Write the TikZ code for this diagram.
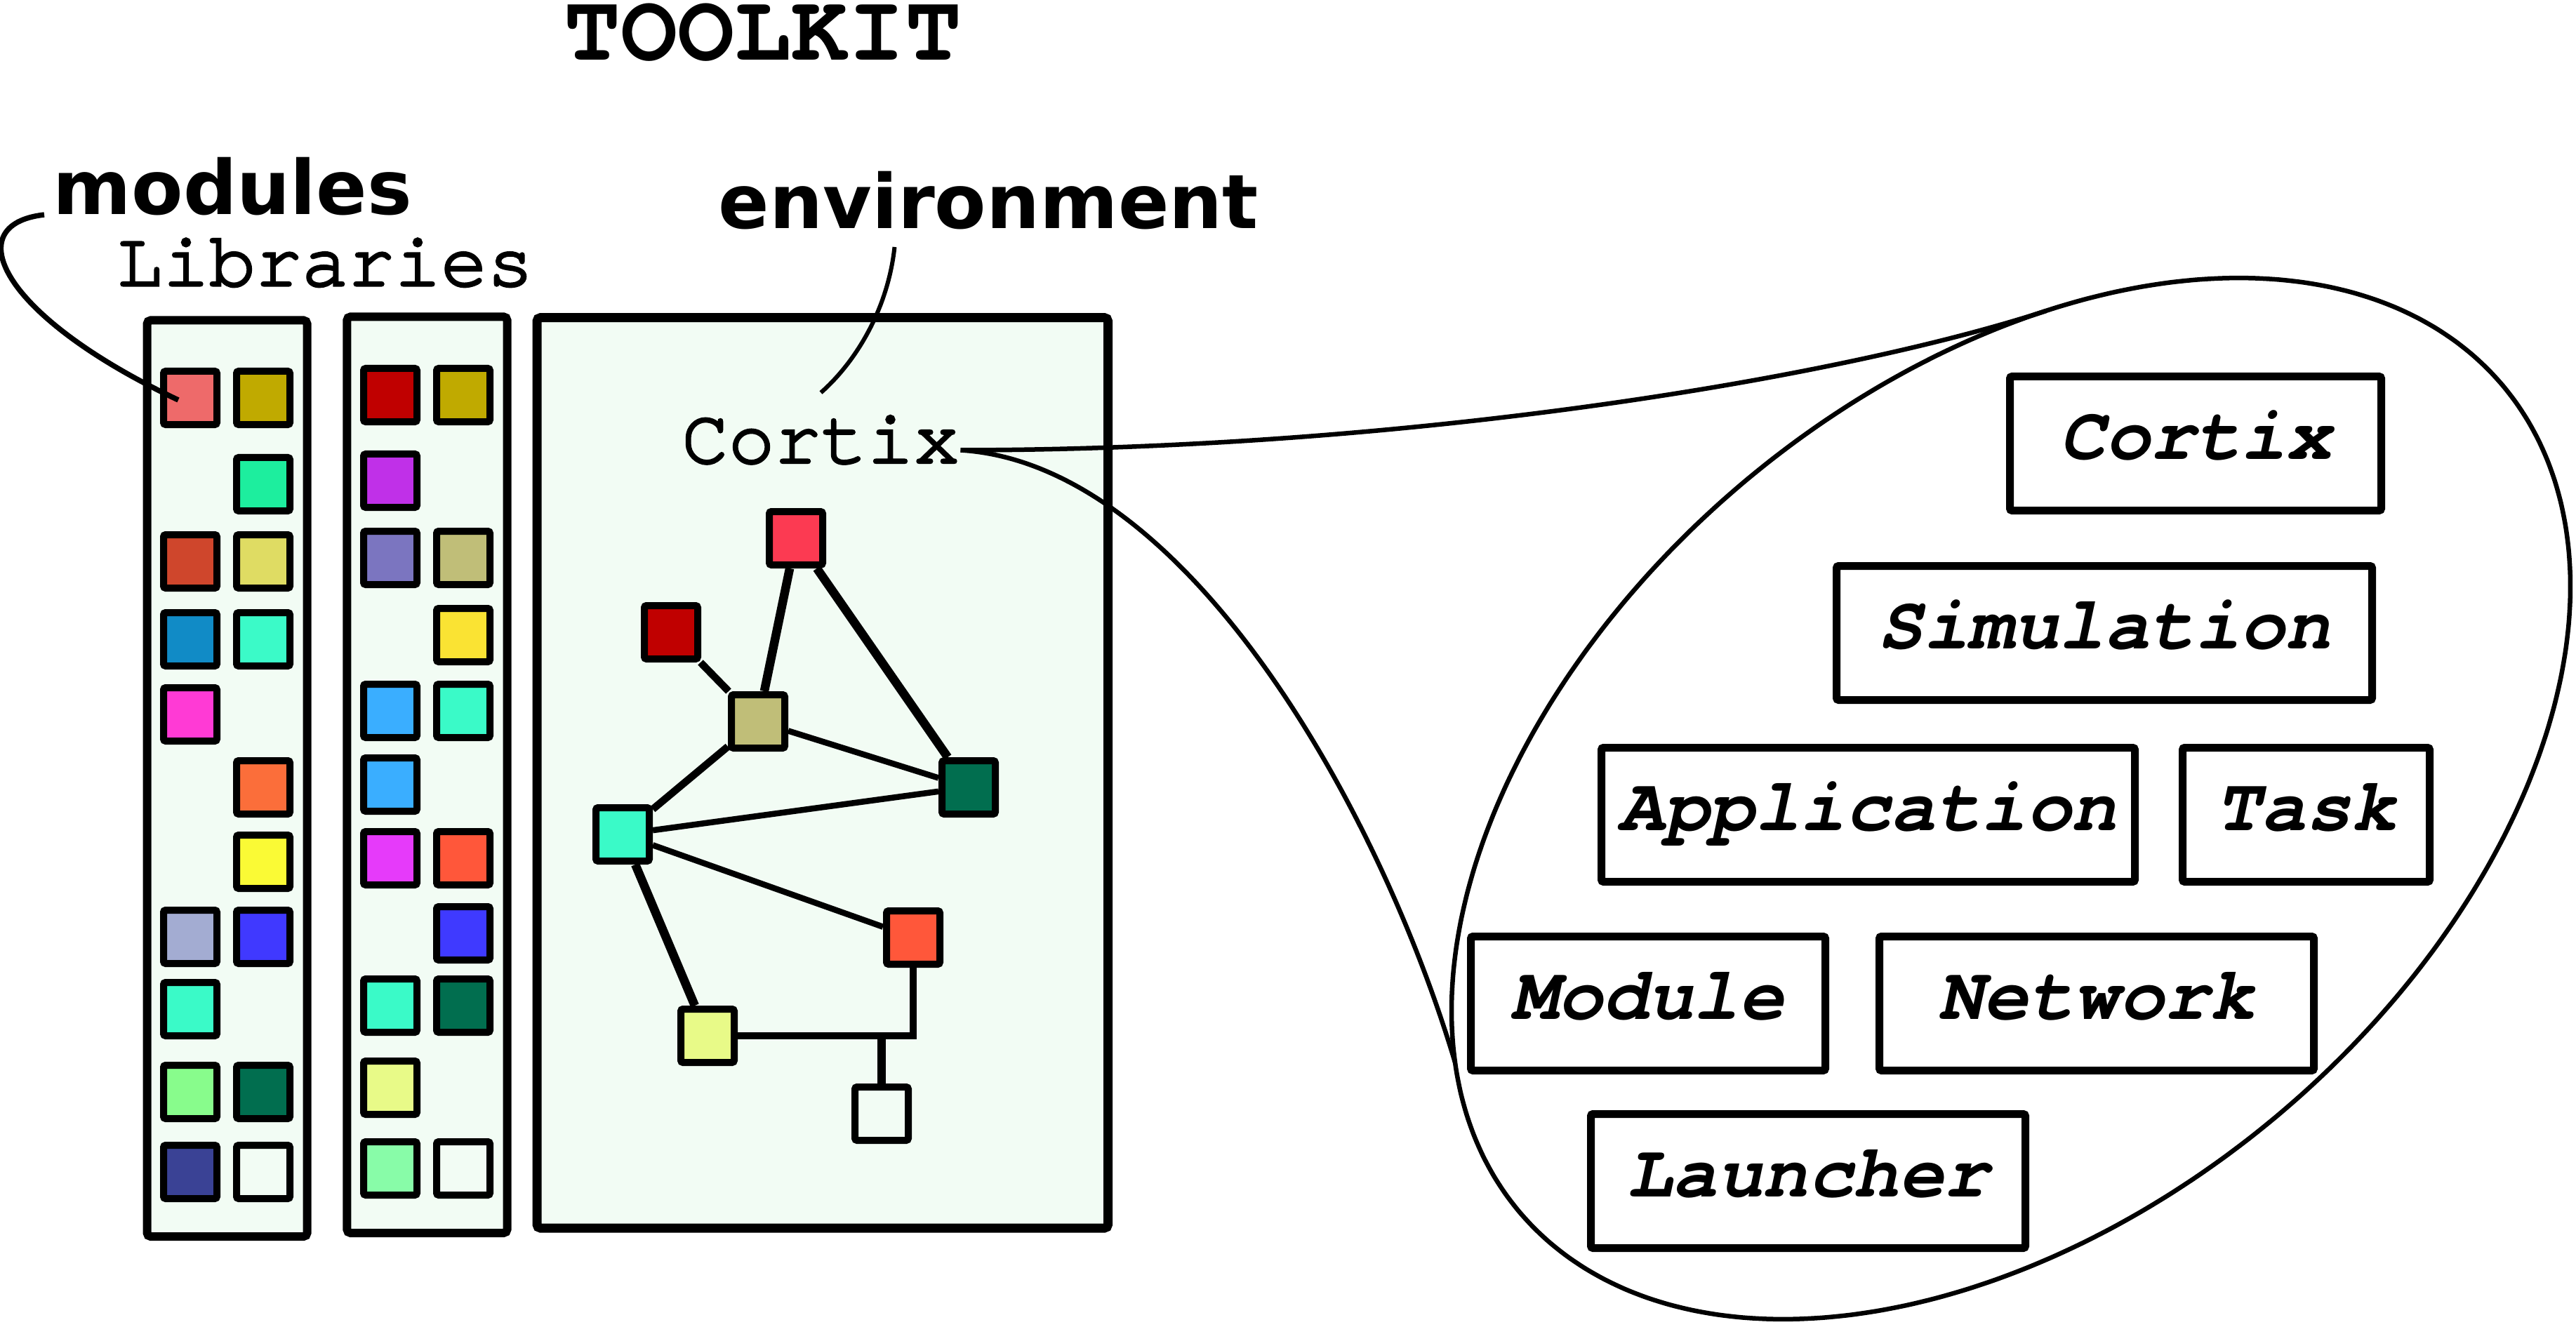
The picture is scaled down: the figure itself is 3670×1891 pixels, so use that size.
\documentclass[tikz,border=0pt]{standalone}
\usepackage{fontspec}
\setmonofont{texgyrecursor}[Extension=.otf, UprightFont=*-regular, BoldFont=*-bold, ItalicFont=*-italic, BoldItalicFont=*-bolditalic]
\newfontfamily\dvsans{DejaVu Sans}
\newfontfamily\cursorheavy{texgyrecursor-regular.otf}[FakeBold=3]
\usetikzlibrary{calc}
\definecolor{panelfill}{HTML}{F2FCF4}
\newcommand\boxfont{\ttfamily\bfseries\itshape\fontsize{21.5pt}{24pt}\selectfont}
\tikzset{
  sq/.style={draw=black, line width=2pt, minimum size=15.2pt, inner sep=0pt, rounded corners=0.6pt},
  panel/.style={draw=black, line width=2.4pt, fill=panelfill, rounded corners=1pt},
  lbox/.style={draw=black, line width=2.2pt, minimum height=38.2pt, inner sep=0pt, text height=12pt, text depth=3.2pt, font=\boxfont, fill=white, rounded corners=0.6pt},
  conn/.style={line width=1.3pt},
  ptr/.style={line width=1.5pt},
  netthick/.style={line width=2.5pt},
  netmid/.style={line width=2.1pt},
  netthin/.style={line width=1.7pt}
}
\begin{document}
\begin{tikzpicture}[x=0.2pt,y=-0.2pt]
\useasboundingbox (0,0) rectangle (3670,1891);

% panels
\draw[panel] (209.6,456.5) rectangle (437.5,1762);
\draw[panel] (494.4,451.4) rectangle (722.5,1757);
\draw[panel, line width=2.6pt] (765,452.7) rectangle (1578.5,1750);

% labels
\node[anchor=base, inner sep=0pt, text height=15pt, text depth=0pt] (title) at (1087,86) {\ttfamily\bfseries\fontsize{27pt}{30pt}\selectfont TOOLKIT};
\node[anchor=base west, inner sep=0pt, text depth=0pt] (modules) at (75,306) {\dvsans\bfseries\fontsize{21.4pt}{24pt}\selectfont modules};
\node[anchor=base, inner sep=0pt, text height=13pt, text depth=0pt] (libs) at (463,407) {\cursorheavy\fontsize{22pt}{24pt}\selectfont Libraries};
\node[anchor=base, inner sep=0pt] (envlabel) at (1408.5,326) {\dvsans\bfseries\fontsize{21.4pt}{24pt}\selectfont environment};
\node[anchor=base, inner sep=0pt, text height=7.2pt, text depth=0pt] (cortix) at (1169.5,659.5) {\cursorheavy\fontsize{22pt}{24pt}\selectfont Cortix};

% library squares
\foreach \n/\x/\y/\c in {
  c1a/271/567/EE6A6A, c1b/375/567/C0AA00, c1c/375/690/1DEE9E,
  c1d/271/800/CF462C, c1e/375/800/DFDC63, c1f/271/911/118BC6,
  c1g/375/911/3BFAC8, c1h/271/1018/FF3AD5, c1i/375/1122/FB6E3A,
  c1j/375/1228/FAFA35, c1k/271/1335/A3ACD2, c1l/375/1335/4039FF,
  c1m/271/1438/3AFAC8, c1n/271/1556/88FC8C, c1o/375/1556/016E4F,
  c1p/271/1670/3A4295, c1q/375/1670/F2FCF4,
  c2a/556/563/C00000, c2b/660/563/C0AA00, c2c/556/685/C030E8,
  c2d/556/795/7B75C0, c2e/660/795/C0BE78, c2f/660/905/FAE333,
  c2g/556/1013/3AAEFF, c2h/660/1013/3AFAC8, c2i/556/1118/3AAEFF,
  c2j/556/1223/E63AFA, c2k/660/1223/FF573A, c2l/660/1330/3F3AFF,
  c2m/556/1433/3AFAC8, c2n/660/1433/016E4F, c2o/556/1550/E8FA88,
  c2p/556/1665/88FCA8, c2q/660/1665/F2FCF4,
  n1/1134/767/FC3A52, n2/956/901/C00000, n3/1080/1028/C0BE78,
  n4/1380/1122/016E4F, n5/887/1189/3AFAC8, n6/1301/1336/FF573A,
  n7/1008/1476/E8FA88, n8/1256/1587/F2FCF4}
{
  \definecolor{tmpc}{HTML}{\c}
  \node[sq, fill=tmpc] (\n) at (\x,\y) {};
}

% network edges
\draw[netthick] (n1) -- (n3);
\draw[netthick] (n1) -- (n4);
\draw[netmid] (n2) -- (n3);
\draw[netthin] (n3) -- (n4);
\draw[netmid] (n3) -- (n5);
\draw[netthin] (n5) -- (n4);
\draw[netthin] (n5) -- (n6);
\draw[netthick] (n5) -- (n7);
\draw[netmid] (n7) -| (n6);
\draw[netthick] (n8) -- (n8 |- n7);

% pointers
\draw[ptr] ([xshift=-2.4pt]modules.base west) .. controls (-60,320) and (0,450) .. ($(c1a.center)+(-17,3)$);
\draw[line width=1.2pt] ($(cortix.north)+(0,-63)$) .. controls (1220,515) and (1265,440) .. ($(envlabel.base)+(-134,26)$);

% zoom ellipse
\draw[conn] plot[domain=0:357, samples=120, smooth cycle, variable=\t]
  ({2865+700.89*cos(\t)-379.37*sin(\t)}, {1138-588.35*cos(\t)-451.94*sin(\t)});
\coordinate (etop) at (2915,443);
\coordinate (ebot) at (2073,1514);
\draw[conn] (cortix.east) .. controls (2000,641) and (2614,541) .. (etop);
\draw[conn] (cortix.east) .. controls (1690,661) and (1965,1152) .. (ebot);

% component boxes
\node[lbox, minimum width=105.8pt] (bcortix) at (3128,632) {Cortix};
\node[lbox, minimum width=152.6pt] (bsim) at (2998,902) {Simulation};
\node[lbox, minimum width=152pt] (bapp) at (2661.5,1161) {Application};
\node[lbox, minimum width=70.4pt] (btask) at (3285.5,1161) {Task};
\node[lbox, minimum width=101pt] (bmod) at (2348,1430) {Module};
\node[lbox, minimum width=123.8pt] (bnet) at (2987,1430) {Network};
\node[lbox, minimum width=123.8pt] (blaunch) at (2576,1683) {Launcher};
\end{tikzpicture}
\end{document}
